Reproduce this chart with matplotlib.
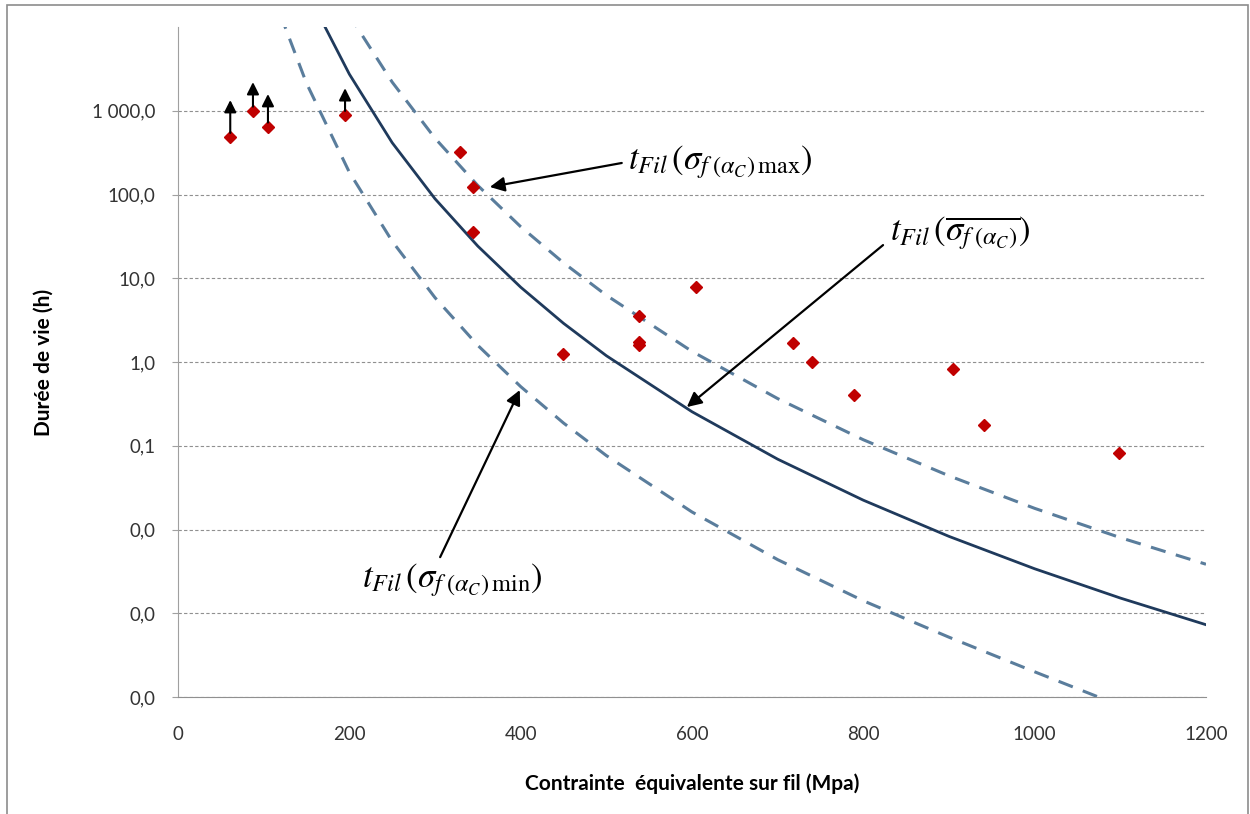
import matplotlib
matplotlib.use("Agg")
import matplotlib.pyplot as plt
from matplotlib.patches import Rectangle

plt.rcParams['font.family'] = ['Lato', 'DejaVu Sans']
plt.rcParams['mathtext.fontset'] = 'stix'

# essais (points rouges)
sigma_pts = [61, 87.5, 105, 195, 329, 344, 344, 449, 538, 538, 538, 605, 718, 740, 789, 905, 941, 1098]
duree_pts = [486, 1000, 646, 889, 324, 124, 36, 1.25, 3.57, 1.72, 1.60, 7.9, 1.70, 1.01, 0.407, 0.825, 0.178, 0.081]

# essais non rompus (fleches vers le haut)
sigma_run = [61, 87.5, 105, 195]
duree_run = [486, 1000, 646, 889]
fleche_haut = [1343, 2200, 1585, 1862]

# courbes t_Fil
sigma_moy = [165, 170, 200, 250, 300, 350, 400, 450, 500, 600, 700, 800, 900, 1000, 1100, 1200]
t_moy = [13900, 10800, 2740, 416, 89, 24.2, 7.83, 2.90, 1.19, 0.255, 0.0692, 0.0224,
         0.00828, 0.0034, 0.00152, 0.00073]

sigma_max = [200, 210, 250, 300, 350, 400, 450, 500, 600, 700, 800, 900, 1000, 1100, 1200]
t_max = [14500, 9580, 2200, 470, 128, 41.3, 15.3, 6.27, 1.34, 0.366, 0.118, 0.0438,
         0.0179, 0.0080, 0.00385]

sigma_min = [120, 125, 150, 200, 250, 300, 350, 400, 450, 500, 600, 700, 800, 900, 1000, 1080, 1100]
t_min = [14200, 10000, 2130, 184.5, 27.7, 5.87, 1.58, 0.509, 0.187, 0.0764, 0.0162, 0.00437,
         0.00141, 5.18e-4, 2.0e-4, 9.5e-5, 8.0e-5]

x_ticks = [0, 200, 400, 600, 800, 1000, 1200]
y_ticks = [1e-4, 1e-3, 1e-2, 1e-1, 1, 10, 100, 1000]
y_labels = ['0,0', '0,0', '0,0', '0,1', '1,0', '10,0', '100,0', '1 000,0']

fig = plt.figure(figsize=(12.5, 8.14), dpi=100)
ax = fig.add_axes([0.1424, 0.1437, 0.8224, 0.8231])

# cadre autour du graphique
fig.patches.append(Rectangle((0.0056, -0.02), 0.9928, 1.0139, transform=fig.transFigure,
                             fill=False, edgecolor='#8c8c8c', lw=1.2))

ax.set_yscale('log')
ax.set_xlim(0, 1200)
ax.set_ylim(1e-4, 1e4)

ax.plot(sigma_moy, t_moy, color='#1f3a5c', lw=2.0, zorder=3)
ax.plot(sigma_max, t_max, color='#5a7d9c', lw=2.2, ls=(0, (5, 3.5)), zorder=3)
ax.plot(sigma_min, t_min, color='#5a7d9c', lw=2.2, ls=(0, (5, 3.5)), zorder=3)

ax.plot(sigma_pts, duree_pts, ls='none', marker='D', ms=6.5, color='#c00000', zorder=4)

for s, d, top in zip(sigma_run, duree_run, fleche_haut):
    ax.annotate('', xy=(s, top), xytext=(s, d * 1.12),
                arrowprops=dict(arrowstyle='-|>', color='black', lw=1.5, mutation_scale=18,
                                shrinkA=0, shrinkB=0), zorder=5)

fl = dict(arrowstyle='-|>', color='black', lw=1.6, mutation_scale=22, shrinkA=0, shrinkB=0)
ax.annotate('', xy=(364, 123), xytext=(518, 238), arrowprops=fl)
ax.annotate('', xy=(594, 0.29), xytext=(823, 24.9), arrowprops=fl)
ax.annotate('', xy=(399, 0.463), xytext=(306, 0.00468), arrowprops=fl)

ax.text(525, 244, r'$t_{Fil}\,(\sigma_{f\;(\alpha_C)\,\mathrm{max}})$', fontsize=25,
        ha='left', va='center')
ax.text(831, 34.7, r'$t_{Fil}\,(\overline{\sigma_{f\;(\alpha_C)}})$', fontsize=25,
        ha='left', va='center')
ax.text(215, 0.0025, r'$t_{Fil}\,(\sigma_{f\;(\alpha_C)\,\mathrm{min}})$', fontsize=25,
        ha='left', va='center')

ax.set_xticks(x_ticks)
ax.set_yticks(y_ticks)
ax.set_yticklabels(y_labels)
ax.minorticks_off()
ax.tick_params(axis='x', length=0, pad=21, labelsize=13.5, labelcolor='#333333')
ax.tick_params(axis='y', length=4, color='#a0a0a0', pad=12, labelsize=13.5, labelcolor='#333333')

ax.yaxis.grid(True, ls=(0, (3, 2)), color='#909090', lw=0.8)
for sp in ['top', 'right']:
    ax.spines[sp].set_visible(False)
ax.spines['left'].set_color('#a0a0a0')
ax.spines['bottom'].set_color('#909090')

ax.set_xlabel('Contrainte  équivalente sur fil (Mpa)', fontsize=15, fontweight='bold', labelpad=22)
ax.set_ylabel('Durée de vie (h)', fontsize=15, fontweight='bold', labelpad=28)

fig.savefig('out.png', dpi=100)
